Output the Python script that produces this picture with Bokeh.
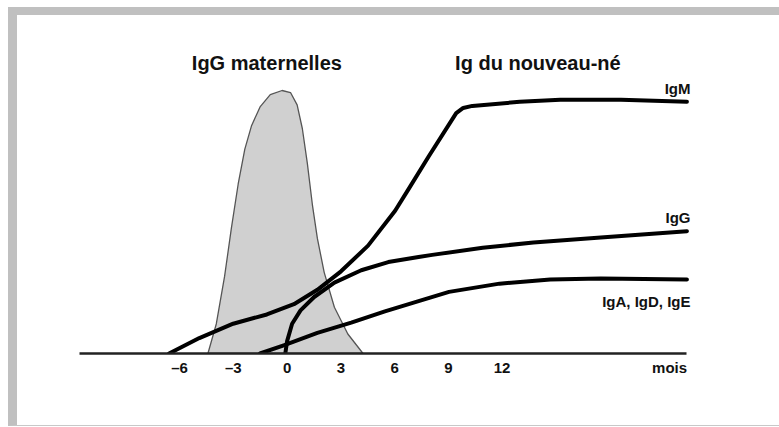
from bokeh.plotting import figure
from bokeh.models import Range1d, FixedTicker, Label
from bokeh.embed import file_html
from bokeh.resources import INLINE

# ---- data (months, relative level) ----
tick_values = [-6, -3, 0, 3, 6, 9, 12]
tick_labels = ["–6", "–3", "0", "3", "6", "9", "12"]
unit_label = "mois"
unit_pos = 21.35

maternal_x = [-4.42, -3.95, -3.49, -3.11, -2.73, -2.36, -1.98, -1.51, -0.94, -0.28, 0.19, 0.56, 0.85,
              1.13, 1.41, 1.69, 2.07, 2.64, 3.39, 4.24]
maternal_y = [0, 29, 75, 122, 165, 199, 222, 240, 252, 256, 254, 242, 219, 185, 145, 112, 79, 45, 19, 0]

igm_x = [-6.59, -4.90, -3.01, -1.13, 0.38, 1.69, 3.01, 4.52, 6.03, 6.78, 7.91, 9.44, 9.83, 10.34,
         12.99, 15.25, 18.64, 22.32]
igm_y = [0, 15, 29, 38, 48, 62, 80, 105, 139, 160, 192, 234, 239, 241, 245, 247, 247, 245]

igg_x = [-0.10, 0.0, 0.28, 0.75, 1.51, 2.64, 4.14, 5.65, 7.34, 8.10, 10.92, 13.75, 17.51, 22.32]
igg_y = [0, 12, 29, 42, 55, 69, 81, 89, 94, 96, 103, 108, 113, 119]

iga_x = [-1.51, -0.19, 1.69, 3.58, 5.46, 7.34, 9.04, 11.86, 14.69, 17.51, 22.32]
iga_y = [0, 8, 20, 30, 41, 51, 60, 68, 72, 73, 72]

FONT = "Liberation Sans"

p = figure(width=762, height=410, output_backend="svg", toolbar_location=None,
           x_range=Range1d(-15.05, 27.99), y_range=Range1d(0, 329),
           min_border_left=0, min_border_right=0, min_border_top=0, min_border_bottom=81,
           y_axis_location=None)
p.styles = {"box-sizing": "content-box", "margin-left": "8px", "margin-top": "7px",
            "border-top": "8px solid #c0c0c0", "border-left": "9px solid #c0c0c0",
            "border-bottom": "1px solid #c8c8c8"}
p.grid.visible = False
p.outline_line_color = None
p.background_fill_color = "white"
p.border_fill_color = "white"

# maternal IgG
p.patch(maternal_x, maternal_y, fill_color="#d0d0d0", line_color="#555555", line_width=1.3)

# newborn Ig curves
for xs, ys in [(igm_x, igm_y), (igg_x, igg_y), (iga_x, iga_y)]:
    p.line(xs, ys, line_color="#000000", line_width=4, line_cap="round", line_join="round")

ax = p.xaxis[0]
ax.ticker = FixedTicker(ticks=tick_values + [unit_pos])
overrides = {v: s for v, s in zip(tick_values, tick_labels)}
overrides[unit_pos] = unit_label
ax.major_label_overrides = overrides
ax.bounds = (-11.6, 22.3)
ax.axis_line_color = "#222222"
ax.axis_line_width = 2.7
ax.major_tick_line_color = None
ax.minor_tick_line_color = None
ax.major_tick_out = 0
ax.major_tick_in = 0
ax.major_label_standoff = 5
ax.major_label_text_font = FONT
ax.major_label_text_font_style = "bold"
ax.major_label_text_font_size = "15px"
ax.major_label_text_color = "#111111"

def lab(x, y, text, size, align, yoff=0):
    p.add_layout(Label(x=x, y=y, y_offset=yoff, text=text, text_font=FONT, text_font_style="bold",
                       text_font_size=size, text_align=align, text_baseline="alphabetic",
                       text_color="#111111"))

lab(-1.13, 283, "IgG maternelles", "20px", "center")
lab(14.0, 283, "Ig du nouveau-né", "20px", "center")
lab(igm_x[-1] + 0.2, igm_y[-1], "IgM", "15px", "right", 13)
lab(igg_x[-1] + 0.2, igg_y[-1], "IgG", "15px", "right", 14)
lab(iga_x[-1] + 0.2, iga_y[-1], "IgA, IgD, IgE", "15px", "right", -22)

open("out.html", "w").write(file_html(p, INLINE))
